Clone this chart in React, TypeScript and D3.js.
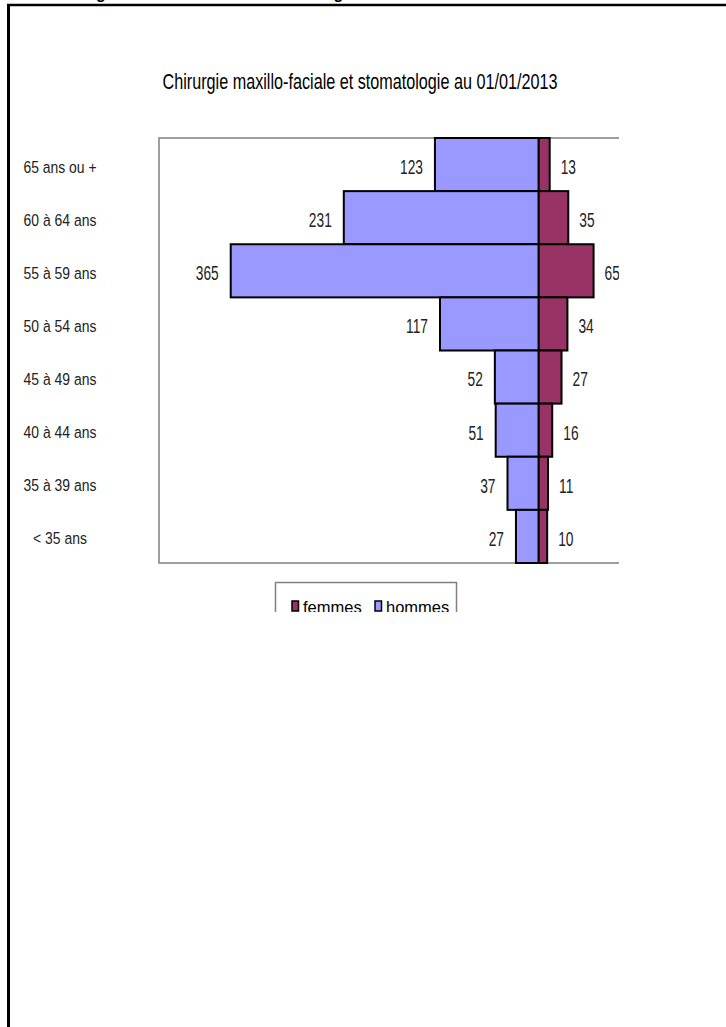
import { useEffect, useRef } from 'react';
import * as d3 from 'd3';

const categories = [
  '65 ans ou +',
  '60 à 64 ans',
  '55 à 59 ans',
  '50 à 54 ans',
  '45 à 49 ans',
  '40 à 44 ans',
  '35 à 39 ans',
  '< 35 ans',
];
const hommes = [123, 231, 365, 117, 52, 51, 37, 27];
const femmes = [13, 35, 65, 34, 27, 16, 11, 10];
const seriesNames = ['femmes', 'hommes'];
const title = 'Chirurgie maxillo-faciale et stomatologie au 01/01/2013';
const pageHeading = 'Chirurgie maxillo-faciale et stomatologie';

// no narrow font installed: squeeze Liberation Sans horizontally instead
const SANS = "'Liberation Sans', Arial, sans-serif";

export default function App() {
  const svgRef = useRef<SVGSVGElement>(null);

  useEffect(() => {
    if (!svgRef.current) return;
    const svg = d3.select(svgRef.current);
    svg.selectAll('*').remove();

    const colors = { femmes: '#993366', hommes: '#9999ff' };

    // page frame of the scanned document
    svg.append('text')
      .attr('x', 48)
      .attr('y', -1.5)
      .style('font-family', SANS)
      .style('font-weight', 'bold')
      .style('font-size', '16px')
      .text(pageHeading);
    svg.append('line')
      .attr('x1', 7).attr('x2', 726).attr('y1', 5).attr('y2', 5)
      .attr('stroke', '#000').attr('stroke-width', 2.5);
    svg.append('line')
      .attr('x1', 8.5).attr('x2', 8.5).attr('y1', 4).attr('y2', 1027)
      .attr('stroke', '#000').attr('stroke-width', 3);

    svg.append('defs').append('clipPath').attr('id', 'chartClip')
      .append('rect').attr('x', 0).attr('y', 20).attr('width', 619).attr('height', 592);

    const chart = svg.append('g').attr('clip-path', 'url(#chartClip)');

    const plot = { left: 159, top: 138, bottom: 563 };

    const x = d3.scaleLinear().domain([-450, 150]).range([plot.left, 665.3]);
    const y = d3.scaleBand<string>().domain(categories).range([plot.top, plot.bottom]).padding(0);

    // title
    chart.append('text')
      .attr('transform', 'translate(360,89) scale(0.81,1.1)')
      .attr('text-anchor', 'middle')
      .style('font-family', SANS)
      .style('font-size', '20px')
      .text(title);

    // plot area border
    chart.append('path')
      .attr('d', `M${x(150)},${plot.top}H${plot.left}V${plot.bottom}H${x(150)}`)
      .attr('fill', 'none')
      .attr('stroke', '#808080')
      .attr('stroke-width', 1.5);

    const rows = categories.map((c, i) => ({ c, h: hommes[i], f: femmes[i] }));

    // hommes bars
    chart.selectAll('.bar-h')
      .data(rows)
      .enter().append('rect')
      .attr('class', 'bar-h')
      .attr('x', d => x(-d.h))
      .attr('y', d => y(d.c)!)
      .attr('width', d => x(0) - x(-d.h))
      .attr('height', y.bandwidth())
      .attr('fill', colors.hommes)
      .attr('stroke', '#000')
      .attr('stroke-width', 2);

    // femmes bars
    chart.selectAll('.bar-f')
      .data(rows)
      .enter().append('rect')
      .attr('class', 'bar-f')
      .attr('x', x(0))
      .attr('y', d => y(d.c)!)
      .attr('width', d => x(d.f) - x(0))
      .attr('height', y.bandwidth())
      .attr('fill', colors.femmes)
      .attr('stroke', '#000')
      .attr('stroke-width', 2);

    const cy = (c: string) => y(c)! + y.bandwidth() / 2 + 2;

    // value labels
    chart.selectAll('.lbl-h')
      .data(rows)
      .enter().append('text')
      .attr('class', 'lbl-h')
      .attr('transform', d => `translate(${x(-d.h) - 12},${cy(d.c)}) scale(0.81,1.23)`)
      .attr('y', 6)
      .attr('text-anchor', 'end')
      .style('font-family', SANS)
      .style('font-size', '17px')
      .style('fill', '#222')
      .text(d => d.h);

    chart.selectAll('.lbl-f')
      .data(rows)
      .enter().append('text')
      .attr('class', 'lbl-f')
      .attr('transform', d => `translate(${x(d.f) + 11},${cy(d.c)}) scale(0.81,1.23)`)
      .attr('y', 6)
      .attr('text-anchor', 'start')
      .style('font-family', SANS)
      .style('font-size', '17px')
      .style('fill', '#222')
      .text(d => d.f);

    // category labels
    chart.selectAll('.cat')
      .data(categories)
      .enter().append('text')
      .attr('class', 'cat')
      .attr('transform', d => `translate(60,${cy(d)}) scale(0.82,1)`)
      .attr('y', 6)
      .attr('text-anchor', 'middle')
      .style('font-family', SANS)
      .style('font-size', '17px')
      .style('fill', '#222')
      .text(d => d);

    // legend
    const legend = chart.append('g');
    legend.append('rect')
      .attr('x', 275.5).attr('y', 582.5).attr('width', 181).attr('height', 40)
      .attr('fill', 'none').attr('stroke', '#808080').attr('stroke-width', 1.5);

    const items = legend.selectAll('.legend-item')
      .data(seriesNames)
      .enter().append('g')
      .attr('class', 'legend-item')
      .attr('transform', (_d, i) => `translate(${i === 0 ? 292 : 375},601)`);

    items.append('rect')
      .attr('width', 6.5)
      .attr('height', 10)
      .attr('fill', d => colors[d as 'femmes' | 'hommes'])
      .attr('stroke', '#000')
      .attr('stroke-width', 1.5);

    items.append('text')
      .attr('x', 11)
      .attr('y', 12)
      .style('font-family', SANS)
      .style('font-size', '16.5px')
      .text(d => d);
  }, []);

  return (
    <svg
      ref={svgRef}
      width={726}
      height={1027}
      style={{ position: 'absolute', left: 0, top: 0, background: '#fff' }}
    ></svg>
  );
}
